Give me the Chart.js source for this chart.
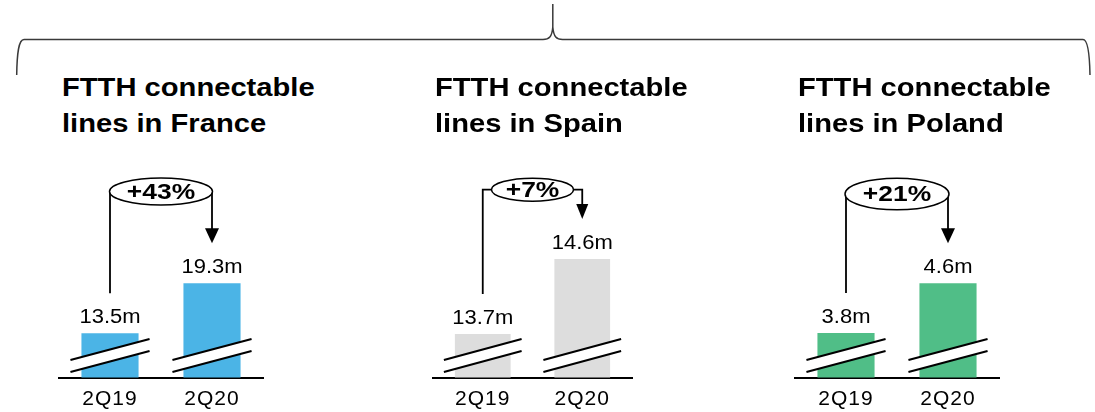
<!DOCTYPE html>
<html><head><meta charset="utf-8">
<script src="https://cdn.jsdelivr.net/npm/chart.js@4.4.0/dist/chart.umd.min.js"></script>
<style>
html,body{margin:0;padding:0;background:#fff;}
#wrap{position:relative;width:1095px;height:412px;overflow:hidden;font-family:"Liberation Sans",Arial,Helvetica,sans-serif;background:#fff;}
canvas{position:absolute;left:0;top:0;}
svg{position:absolute;left:0;top:0;}
.title{position:absolute;top:70.4px;font-weight:bold;font-size:26.5px;line-height:35.5px;color:#000;transform:scaleX(1.1);transform-origin:0 0;white-space:nowrap;}
</style></head><body>
<div id="wrap">
<svg width="1095" height="412">
  <path d="M16.7,75 C17,54 18.5,39.5 24,39.5 L543,39.5 C549,39.5 552,37 552.8,27 L552.8,4 M552.8,27 C553.6,37 556.6,39.5 562.6,39.5 L1083,39.5 C1088,39.5 1089.6,54 1090,75" fill="none" stroke="#3a3a3a" stroke-width="1.5"/>
</svg>
</div>
<script>
const categories = ['2Q19', '2Q20'];
const franceValues = [13.5, 19.3];
const spainValues = [13.7, 14.6];
const polandValues = [3.8, 4.6];
const growthLabels = ['+43%', '+7%', '+21%'];
const titleLines = [
  ['FTTH connectable', 'lines in France'],
  ['FTTH connectable', 'lines in Spain'],
  ['FTTH connectable', 'lines in Poland']
];

const FONT = '"Liberation Sans", Arial, Helvetica, sans-serif';
const panels = [
  {values: franceValues, color: '#4BB4E6', growth: growthLabels[0], title: titleLines[0],
   areaLeft: 59, areaRight: 263, yMin: 8.37, yMax: 34.76, titleX: 61.5,
   ell: {cy: 191.5, rx: 51.5, ry: 13.5}, headW: 14},
  {values: spainValues, color: '#DDDDDD', growth: growthLabels[1], title: titleLines[1],
   areaLeft: 433, areaRight: 632, yMin: 13.178, yMax: 15.908, titleX: 435,
   ell: {cy: 189.7, rx: 41, ry: 11.5}, headW: 12},
  {values: polandValues, color: '#50BE87', growth: growthLabels[2], title: titleLines[2],
   areaLeft: 795, areaRight: 999, yMin: 3.084, yMax: 6.745, titleX: 797.5,
   ell: {cy: 194, rx: 52, ry: 15.8}, headW: 14}
];

const wrap = document.getElementById('wrap');

panels.forEach((p) => {
  const t = document.createElement('div');
  t.className = 'title';
  t.style.left = p.titleX + 'px';
  t.innerHTML = p.title.join('<br>');
  wrap.appendChild(t);

  const cv = document.createElement('canvas');
  cv.width = 1095; cv.height = 412;
  wrap.appendChild(cv);

  const annot = {
    id: 'annot',
    beforeDraw(chart) { chart.ctx.letterSpacing = '1px'; },
    afterDatasetsDraw(chart) {
      const ctx = chart.ctx;
      ctx.save();
      ctx.letterSpacing = '0px';
      const bars = chart.getDatasetMeta(0).data;
      const base = chart.chartArea.bottom;
      // break marks
      bars.forEach((b) => {
        const l = b.x - b.width / 2 - 11, r = b.x + b.width / 2 + 11;
        ctx.fillStyle = '#fff';
        ctx.beginPath();
        ctx.moveTo(l, base - 17.5); ctx.lineTo(r, base - 38.5);
        ctx.lineTo(r, base - 26.5); ctx.lineTo(l, base - 5.5);
        ctx.closePath(); ctx.fill();
        ctx.strokeStyle = '#000'; ctx.lineWidth = 2;
        ctx.beginPath();
        ctx.moveTo(l, base - 17.5); ctx.lineTo(r, base - 38.5);
        ctx.moveTo(l, base - 5.5); ctx.lineTo(r, base - 26.5);
        ctx.stroke();
      });
      // value labels
      bars.forEach((b, i) => {
        const txt = p.values[i].toFixed(1) + 'm';
        ctx.save();
        ctx.translate(b.x, b.y - 10);
        ctx.scale(1.1, 1);
        ctx.font = '20px ' + FONT;
        ctx.fillStyle = '#000';
        ctx.textAlign = 'center';
        ctx.textBaseline = 'alphabetic';
        ctx.fillText(txt, 0, 0);
        ctx.restore();
      });
      // connector with ellipse and arrow
      const b1 = bars[0], b2 = bars[1];
      const cx = (b1.x + b2.x) / 2, e = p.ell;
      const startY = b1.y - 40, tipY = b2.y - 40, headLen = 15;
      ctx.strokeStyle = '#000'; ctx.lineWidth = 1.8;
      ctx.beginPath();
      ctx.moveTo(b1.x, startY); ctx.lineTo(b1.x, e.cy); ctx.lineTo(cx - e.rx, e.cy);
      ctx.moveTo(cx + e.rx, e.cy); ctx.lineTo(b2.x, e.cy); ctx.lineTo(b2.x, tipY - headLen + 1);
      ctx.stroke();
      ctx.fillStyle = '#000';
      ctx.beginPath();
      ctx.moveTo(b2.x - p.headW / 2, tipY - headLen);
      ctx.lineTo(b2.x + p.headW / 2, tipY - headLen);
      ctx.lineTo(b2.x, tipY);
      ctx.closePath(); ctx.fill();
      ctx.fillStyle = '#fff'; ctx.lineWidth = 1.5;
      ctx.beginPath();
      ctx.ellipse(cx, e.cy, e.rx, e.ry, 0, 0, Math.PI * 2);
      ctx.fill(); ctx.stroke();
      ctx.save();
      ctx.translate(cx, e.cy + 1);
      ctx.scale(1.2, 1);
      ctx.font = 'bold 22px ' + FONT;
      ctx.fillStyle = '#000';
      ctx.textAlign = 'center';
      ctx.textBaseline = 'middle';
      ctx.fillText(p.growth, 0, 0);
      ctx.restore();
      ctx.restore();
    }
  };

  new Chart(cv, {
    type: 'bar',
    data: {
      labels: categories,
      datasets: [{data: p.values, backgroundColor: p.color, borderWidth: 0,
                  barPercentage: 0.56, categoryPercentage: 1}]
    },
    options: {
      responsive: false, animation: false, devicePixelRatio: 1,
      layout: {padding: {left: p.areaLeft, right: 1095 - p.areaRight, top: 150, bottom: 0}},
      plugins: {legend: {display: false}, tooltip: {enabled: false}, title: {display: false}},
      scales: {
        x: {
          grid: {display: false, drawTicks: false},
          border: {display: true, color: '#000', width: 2},
          ticks: {color: '#000', font: {family: FONT, size: 21}, padding: 9, maxRotation: 0, autoSkip: false},
          afterFit: (s) => { s.height = 34.5; }
        },
        y: {display: false, min: p.yMin, max: p.yMax}
      }
    },
    plugins: [annot]
  });
});
</script>
</body></html>
